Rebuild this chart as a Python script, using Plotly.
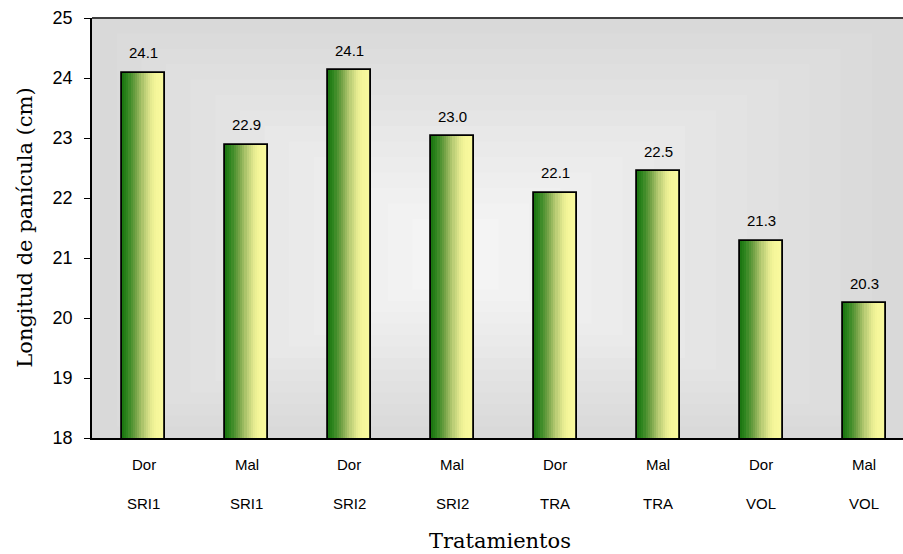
import plotly.graph_objects as go

# ---- data ----
variedad = ["Dor", "Mal", "Dor", "Mal", "Dor", "Mal", "Dor", "Mal"]
sistema = ["SRI1", "SRI1", "SRI2", "SRI2", "TRA", "TRA", "VOL", "VOL"]
longitud = [24.09, 22.89, 24.13, 23.03, 22.09, 22.45, 21.29, 20.25]
etiquetas = ["24.1", "22.9", "24.1", "23.0", "22.1", "22.5", "21.3", "20.3"]
y_ticks = [18, 19, 20, 21, 22, 23, 24, 25]

cats = list(range(len(longitud)))

fig = go.Figure()

# horizontal gradient inside bars built from thin strips
stops = [(0.0, (25, 115, 15)), (0.12, (45, 132, 30)), (0.32, (115, 162, 70)),
         (0.52, (188, 206, 118)), (0.68, (230, 235, 145)), (0.8, (246, 247, 154)),
         (1.0, (250, 250, 160))]

def interp(t):
    for (t0, c0), (t1, c1) in zip(stops[:-1], stops[1:]):
        if t0 <= t <= t1:
            u = (t - t0) / (t1 - t0) if t1 > t0 else 0
            return "rgb(%d,%d,%d)" % tuple(round(a + (b - a) * u) for a, b in zip(c0, c1))
    return "rgb(%d,%d,%d)" % stops[-1][1]

bw = 0.42
n = 20
sw = bw / n
for k in range(n):
    fig.add_trace(go.Bar(
        x=cats, y=longitud, width=sw * 1.15, offset=-bw / 2 + k * sw,
        marker=dict(color=interp((k + 0.5) / n), line=dict(width=0)),
        hoverinfo="skip", showlegend=False))

fig.add_trace(go.Bar(
    x=cats, y=longitud, width=bw,
    marker=dict(color="rgba(0,0,0,0)", line=dict(color="black", width=1.8)),
    showlegend=False))

# background rectangular gradient
shapes = []
steps = 14
for i in range(steps):
    f = i * 0.032
    g = round(217 + (244 - 217) * i / (steps - 1))
    shapes.append(dict(type="rect", xref="paper", yref="paper",
                       x0=f * 0.95, x1=1 - f * 1.2, y0=f * 0.85, y1=1 - f * 1.15,
                       fillcolor="rgb(%d,%d,%d)" % (g, g, g), line=dict(width=0),
                       layer="below"))
shapes.append(dict(type="line", xref="paper", yref="paper", x0=0, x1=1, y0=1, y1=1,
                   line=dict(color="#404040", width=2)))

lab_font = dict(family="Arial, Liberation Sans", size=15, color="black")
annotations = []
for c, v, t in zip(cats, longitud, etiquetas):
    annotations.append(dict(x=c, y=v, xref="x", yref="y", text=t, showarrow=False,
                            yshift=20, yanchor="middle", font=lab_font))
for c, a, b in zip(cats, variedad, sistema):
    annotations.append(dict(x=c, y=-0.064, xref="x", yref="paper", text=a, showarrow=False,
                            yanchor="middle", font=lab_font))
    annotations.append(dict(x=c, y=-0.155, xref="x", yref="paper", text=b, showarrow=False,
                            yanchor="middle", font=lab_font))
annotations.append(dict(x=0.503, y=-0.246, xref="paper", yref="paper", text="Tratamientos",
                        showarrow=False, yanchor="middle",
                        font=dict(family="DejaVu Serif", size=21, color="black")))
annotations.append(dict(x=-0.083, y=0.5, xref="paper", yref="paper",
                        text="Longitud de panícula (cm)", textangle=-90,
                        showarrow=False, xanchor="center", yanchor="middle",
                        font=dict(family="DejaVu Serif", size=21, color="black")))

fig.update_layout(
    width=903, height=554,
    margin=dict(l=92, r=0, t=18, b=116),
    paper_bgcolor="white", plot_bgcolor="rgb(217,217,217)",
    barmode="overlay", bargap=0,
    shapes=shapes, annotations=annotations,
    xaxis=dict(range=[-0.5, 7.374], showticklabels=False, ticks="", showgrid=False,
               zeroline=False, showline=True, linecolor="black", linewidth=1.5),
    yaxis=dict(range=[18, 25], tickvals=y_ticks, ticks="outside", ticklen=6,
               tickcolor="black", showgrid=False, zeroline=False, showline=True,
               linecolor="black", linewidth=1.5, ticklabelstandoff=8,
               tickfont=dict(family="Arial, Liberation Sans", size=18, color="black")),
)

fig.write_html("out.html", post_script="document.body.style.margin='0';",
               config={"displayModeBar": False})
